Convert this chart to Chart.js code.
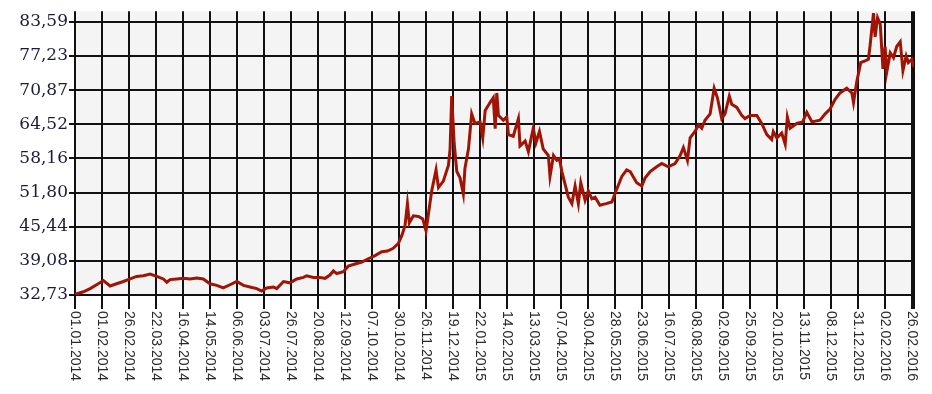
<!DOCTYPE html>
<html>
<head>
<meta charset="utf-8">
<script src="https://cdn.jsdelivr.net/npm/chart.js@4/dist/chart.umd.min.js"></script>
<style>
  html, body { margin: 0; padding: 0; background: #fff; }
  canvas { display: block; }
</style>
</head>
<body>
<canvas id="chart" width="932" height="394"></canvas>
<script>
// Tick labels
const xLabels = [
  "01.01.2014", "01.02.2014", "26.02.2014", "22.03.2014", "16.04.2014", "14.05.2014",
  "06.06.2014", "03.07.2014", "26.07.2014", "20.08.2014", "12.09.2014", "07.10.2014",
  "30.10.2014", "26.11.2014", "19.12.2014", "22.01.2015", "14.02.2015", "13.03.2015",
  "07.04.2015", "30.04.2015", "28.05.2015", "23.06.2015", "16.07.2015", "08.08.2015",
  "02.09.2015", "25.09.2015", "20.10.2015", "13.11.2015", "08.12.2015", "31.12.2015",
  "02.02.2016", "26.02.2016"
];
const yTicks = [32.73, 39.08, 45.44, 51.80, 58.16, 64.52, 70.87, 77.23, 83.59];
const yLabels = ["32,73", "39,08", "45,44", "51,80", "58,16", "64,52", "70,87", "77,23", "83,59"];

// Series: position along the date axis (in label steps) and rate
const pos2014a = [0, 0.31, 0.56, 0.80, 1.05, 1.30, 1.54, 1.79, 2.04, 2.28, 2.53, 2.78, 3.03, 3.27, 3.40, 3.52, 3.77, 4.01, 4.26, 4.51, 4.75, 5.00, 5.25, 5.49, 5.74, 5.99, 6.24, 6.48, 6.73, 6.91, 7.10, 7.35, 7.47, 7.72, 7.96, 8.21, 8.46, 8.58, 8.83, 9.05];
const rate2014a = [32.85, 33.33, 33.92, 34.64, 35.42, 34.40, 34.82, 35.24, 35.72, 36.19, 36.31, 36.61, 36.19, 35.72, 35.12, 35.60, 35.72, 35.83, 35.72, 35.89, 35.72, 34.82, 34.52, 34.04, 34.64, 35.24, 34.52, 34.22, 33.92, 33.45, 34.04, 34.22, 33.92, 35.24, 35.00, 35.72, 36.01, 36.31, 36.01, 36.01];

const pos2014b = [9.26, 9.44, 9.57, 9.69, 9.94, 10.12, 10.37, 10.62, 10.86, 11.11, 11.36, 11.57, 11.77, 11.97, 12.10, 12.22, 12.31, 12.38, 12.53, 12.72, 12.88, 13.00, 13.21, 13.37, 13.46, 13.64, 13.83, 13.89, 13.95, 14.04, 14.14, 14.26, 14.38, 14.44, 14.57, 14.69, 14.81];
const rate2014b = [35.83, 36.44, 37.21, 36.72, 37.08, 38.10, 38.51, 38.87, 39.48, 40.07, 40.79, 40.91, 41.38, 42.28, 43.78, 45.57, 49.74, 46.16, 47.47, 47.36, 46.88, 44.68, 52.12, 56.01, 52.73, 53.92, 56.91, 59.90, 69.75, 61.08, 55.71, 54.52, 51.53, 56.31, 59.90, 66.45, 64.66];

const pos2015a = [15.00, 15.10, 15.19, 15.37, 15.49, 15.56, 15.62, 15.68, 15.86, 15.99, 16.05, 16.23, 16.42, 16.48, 16.67, 16.79, 16.97, 17.07, 17.20, 17.34, 17.53, 17.59, 17.72, 17.84, 17.94, 18.03, 18.15, 18.27, 18.40, 18.52, 18.64, 18.73, 18.89, 19.01, 19.14, 19.26, 19.44, 19.67, 19.88, 20.06, 20.25, 20.43, 20.56, 20.80, 20.99];
const rate2015a = [64.96, 61.97, 67.06, 68.55, 69.44, 63.71, 70.34, 66.16, 65.27, 65.86, 62.58, 62.28, 65.56, 60.49, 61.38, 59.41, 63.77, 61.08, 63.17, 59.90, 58.70, 54.81, 58.70, 57.80, 58.11, 55.71, 53.32, 50.94, 49.74, 53.02, 49.74, 53.63, 50.33, 52.12, 50.64, 50.94, 49.44, 49.74, 50.05, 52.43, 54.81, 56.01, 55.71, 53.63, 53.02];

const pos2015b = [21.11, 21.30, 21.54, 21.73, 21.97, 22.22, 22.41, 22.53, 22.68, 22.78, 22.96, 23.09, 23.21, 23.33, 23.52, 23.67, 23.79, 23.95, 24.07, 24.23, 24.32, 24.51, 24.69, 24.81, 25.00, 25.25, 25.43, 25.62, 25.80, 25.86, 25.99, 26.17, 26.30, 26.38, 26.48, 26.73, 26.95, 27.10, 27.29, 27.59, 27.78, 27.96, 28.15, 28.33, 28.58, 28.77, 28.83, 28.95];
const rate2015b = [54.52, 55.71, 56.60, 57.21, 56.60, 57.21, 58.70, 60.18, 57.80, 61.97, 63.17, 64.37, 63.77, 65.27, 66.45, 71.23, 69.44, 65.56, 66.45, 69.75, 68.24, 67.65, 66.16, 65.56, 66.16, 66.16, 64.66, 62.58, 61.69, 63.17, 61.97, 62.87, 60.79, 65.86, 63.77, 64.66, 64.96, 66.76, 64.96, 65.27, 66.45, 67.35, 69.14, 70.34, 71.23, 70.34, 68.55, 72.43];

const pos2016 = [29.10, 29.26, 29.38, 29.44, 29.57, 29.63, 29.72, 29.82, 29.92, 30.00, 30.06, 30.19, 30.31, 30.43, 30.56, 30.66, 30.78, 30.86, 30.99, 31.07];
const rate2016 = [76.01, 76.30, 76.60, 78.99, 85.20, 80.78, 84.36, 83.18, 74.81, 78.99, 74.22, 77.80, 76.91, 78.99, 79.88, 74.51, 77.20, 76.01, 76.60, 75.12];

const positions = [...pos2014a, ...pos2014b, ...pos2015a, ...pos2015b, ...pos2016];
const rates = [...rate2014a, ...rate2014b, ...rate2015a, ...rate2015b, ...rate2016];
const xMax = 31.07;
const yMax = 85.56;

const points = positions.map((x, i) => ({ x: x, y: rates[i] }));

// Plot background
const plotBg = {
  id: "plotBg",
  beforeDraw(chart) {
    const { ctx, chartArea: a } = chart;
    ctx.save();
    ctx.fillStyle = "#f4f4f4";
    ctx.fillRect(a.left, a.top, a.right - a.left, a.bottom - a.top);
    ctx.restore();
  }
};

// Vertical date labels, reading downward
const dateLabels = {
  id: "dateLabels",
  afterDraw(chart) {
    const { ctx } = chart;
    const sx = chart.scales.x;
    ctx.save();
    ctx.font = "14px 'Liberation Sans', Arial, sans-serif";
    ctx.fillStyle = "#2a2a2a";
    ctx.textAlign = "left";
    ctx.textBaseline = "middle";
    xLabels.forEach((lbl, i) => {
      const x = sx.getPixelForValue(i);
      ctx.save();
      ctx.translate(x, chart.chartArea.bottom + 16);
      ctx.rotate(Math.PI / 2);
      ctx.fillText(lbl, 0, 0);
      ctx.restore();
    });
    ctx.restore();
  }
};

new Chart(document.getElementById("chart"), {
  type: "line",
  data: {
    datasets: [{
      data: points,
      borderColor: "#a01405",
      borderWidth: 3,
      pointRadius: 0,
      tension: 0,
      fill: false
    }]
  },
  options: {
    responsive: false,
    animation: false,
    layout: { padding: { top: 0, right: 18, bottom: 0, left: 0 } },
    plugins: { legend: { display: false }, tooltip: { enabled: false } },
    scales: {
      x: {
        type: "linear",
        min: 0,
        max: xMax,
        afterBuildTicks: s => {
          s.ticks = xLabels.map((_, i) => ({ value: i })).concat([{ value: xMax }]);
        },
        afterFit: s => { s.height = 99; },
        ticks: { display: false },
        grid: { color: "#111", lineWidth: 2, tickLength: 14 },
        border: { display: false }
      },
      y: {
        min: 32.73,
        max: yMax,
        afterBuildTicks: s => {
          s.ticks = yTicks.map(v => ({ value: v }));
        },
        afterFit: s => { s.width = 75; },
        ticks: {
          autoSkip: false,
          padding: 1,
          color: "#1c1c3a",
          font: { family: "'DejaVu Serif', serif", size: 17 },
          callback: (v, i) => yLabels[i]
        },
        grid: { color: "#111", lineWidth: 2, tickLength: 6 },
        border: { display: false }
      }
    }
  },
  plugins: [plotBg, dateLabels]
});
</script>
</body>
</html>
